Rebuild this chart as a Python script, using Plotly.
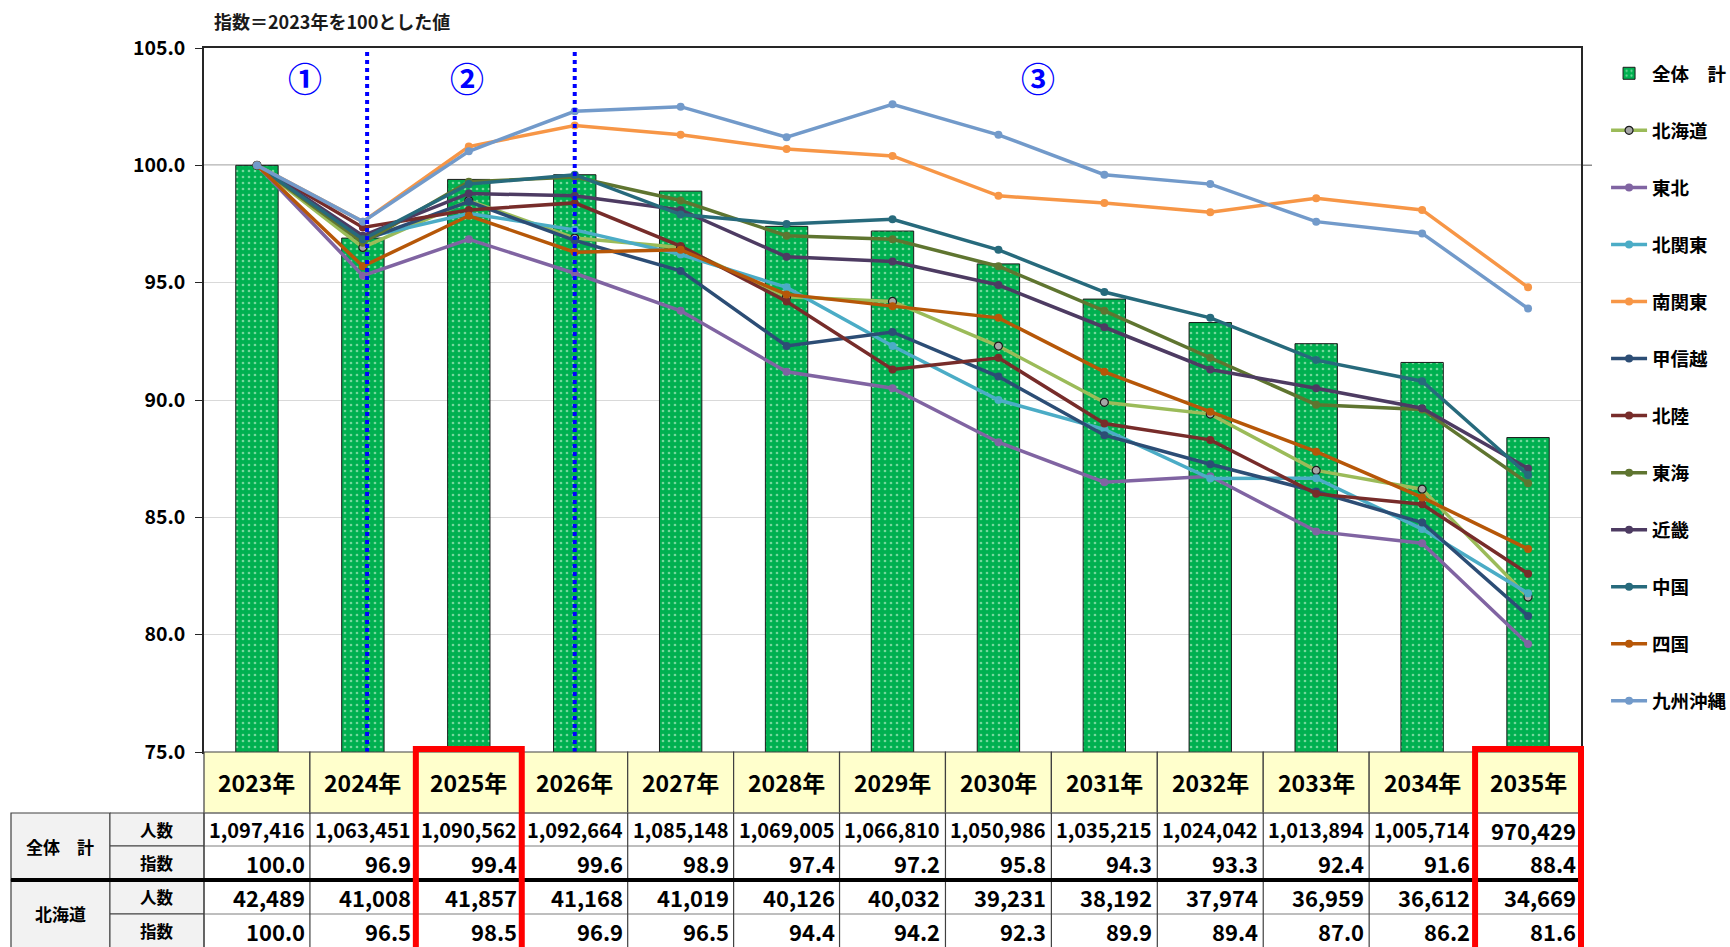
import plotly.graph_objects as go

# ---------------- data ----------------
years = ["2023年", "2024年", "2025年", "2026年", "2027年", "2028年", "2029年",
         "2030年", "2031年", "2032年", "2033年", "2034年", "2035年"]

total_people = [1097416, 1063451, 1090562, 1092664, 1085148, 1069005, 1066810,
                1050986, 1035215, 1024042, 1013894, 1005714, 970429]
total_index = [100.0, 96.9, 99.4, 99.6, 98.9, 97.4, 97.2, 95.8, 94.3, 93.3, 92.4, 91.6, 88.4]

hokkaido_people = [42489, 41008, 41857, 41168, 41019, 40126, 40032,
                   39231, 38192, 37974, 36959, 36612, 34669]
hokkaido_index = [100.0, 96.5, 98.5, 96.9, 96.5, 94.4, 94.2, 92.3, 89.9, 89.4, 87.0, 86.2, 81.6]

tohoku = [100.0, 95.3, 96.85, 95.4, 93.8, 91.2, 90.5, 88.2, 86.5, 86.75, 84.4, 83.9, 79.6]
kitakanto = [100.0, 96.9, 97.95, 97.25, 96.2, 94.8, 92.3, 90.0, 88.75, 86.65, 86.67, 84.5, 81.76]
minamikanto = [100.0, 97.6, 100.8, 101.7, 101.3, 100.7, 100.4, 98.7, 98.4, 98.0, 98.6, 98.1, 94.8]
koshinetsu = [100.0, 96.8, 98.45, 96.8, 95.5, 92.3, 92.9, 91.0, 88.5, 87.26, 86.1, 84.78, 80.8]
hokuriku = [100.0, 97.35, 98.1, 98.4, 96.56, 94.2, 91.3, 91.8, 89.0, 88.3, 86.0, 85.56, 82.6]
tokai = [100.0, 96.7, 99.3, 99.5, 98.5, 97.0, 96.85, 95.7, 93.8, 91.8, 89.8, 89.6, 86.45]
kinki = [100.0, 97.0, 98.8, 98.7, 98.1, 96.1, 95.9, 94.9, 93.1, 91.3, 90.5, 89.65, 87.08]
chugoku = [100.0, 96.85, 99.2, 99.6, 97.9, 97.5, 97.7, 96.4, 94.6, 93.5, 91.7, 90.8, 86.8]
shikoku = [100.0, 95.7, 97.85, 96.3, 96.4, 94.5, 94.0, 93.5, 91.2, 89.5, 87.8, 85.85, 83.65]
kyushu_okinawa = [100.0, 97.6, 100.6, 102.3, 102.5, 101.2, 102.6, 101.3, 99.6, 99.2, 97.6, 97.1, 93.9]

total_name = "全体　計"
region_names = ["北海道", "東北", "北関東", "南関東", "甲信越", "北陸",
                "東海", "近畿", "中国", "四国", "九州沖縄"]
region_values = [hokkaido_index, tohoku, kitakanto, minamikanto, koshinetsu, hokuriku,
                 tokai, kinki, chugoku, shikoku, kyushu_okinawa]

table_groups = ["全体　計", "北海道"]
table_sub = ["人数", "指数"]
table_rows = [total_people, total_index, hokkaido_people, hokkaido_index]

period_labels = ["①", "②", "③"]
period_label_x = [0.45, 1.98, 7.37]
period_boundaries = [1.04, 3.0]
note_text = "指数＝2023年を100とした値"

# ---------------- styles ----------------
FONT = "Noto Sans CJK JP"
line_colors = ["#9BBB59", "#8064A2", "#4BACC6", "#F79646", "#2C4D75", "#772C2A",
               "#5F7530", "#4D3B62", "#276A7C", "#B65708", "#729ACA"]

W, H = 1730, 947
L, R, T, B = 204, 149, 48, 195
PW = W - L - R
PH = H - T - B
N = len(years)


def px(xpix):
    return (xpix - L) / PW


def py(ypix):
    return (H - B - ypix) / PH


def colx(i):
    return i / N


fig = go.Figure()

fig.add_trace(go.Bar(
    x=years, y=total_index, name=total_name, width=0.4,
    marker=dict(color="#00B050", line=dict(color="#1a1a1a", width=1),
                pattern=dict(shape=".", fgcolor="#E8FFE8", size=6, solidity=0.16,
                             fillmode="overlay")),
    legendgroup="g0",
))

for k, (nm, vals) in enumerate(zip(region_names, region_values)):
    if k == 0:
        mk = dict(size=8, color="#A6A6A6", line=dict(color="#1a1a1a", width=1.2))
    else:
        mk = dict(size=8, color=line_colors[k])
    fig.add_trace(go.Scatter(
        x=years, y=vals, name=nm, mode="lines+markers",
        line=dict(color=line_colors[k], width=3.5), marker=mk,
        legendgroup=f"g{k+1}",
    ))

shapes = []
# 100 reference line
shapes.append(dict(type="line", xref="paper", yref="y", x0=0, x1=px(1592), y0=100, y1=100,
                   line=dict(color="#8C8C8C", width=1.5), layer="below"))
# period boundaries
for xb in period_boundaries:
    shapes.append(dict(type="line", xref="x", yref="y", x0=xb, x1=xb, y0=75, y1=105,
                       line=dict(color="#0000FF", width=4, dash="dot"), layer="above"))

# ---------------- table ----------------
row_edges = [752, 813, 846, 880, 914, 948]
row_ext = 962
# header cells
for i in range(N):
    shapes.append(dict(type="rect", xref="paper", yref="paper",
                       x0=colx(i), x1=colx(i + 1), y0=py(row_edges[1]), y1=py(row_edges[0]),
                       fillcolor="#FFFFCC", line=dict(color="#404040", width=1.2)))
# label cells
for g in range(2):
    ybot = row_ext if g == 1 else row_edges[3]
    shapes.append(dict(type="rect", xref="paper", yref="paper",
                       x0=px(11), x1=px(110), y0=py(ybot), y1=py(row_edges[2 * g + 1]),
                       fillcolor="#F2F2F2", line=dict(color="#404040", width=1.2)))
    for s in range(2):
        r = 2 * g + s
        yb = row_ext if r == 3 else row_edges[r + 2]
        shapes.append(dict(type="rect", xref="paper", yref="paper",
                           x0=px(110), x1=0, y0=py(yb), y1=py(row_edges[r + 1]),
                           fillcolor="#F2F2F2", line=dict(color="#404040", width=1)))
# value grid: horizontal lines
for r in range(1, 5):
    shapes.append(dict(type="line", xref="paper", yref="paper", x0=0, x1=1,
                       y0=py(row_edges[r]), y1=py(row_edges[r]),
                       line=dict(color="#7F7F7F", width=1.2)))
# vertical lines
for i in range(N + 1):
    shapes.append(dict(type="line", xref="paper", yref="paper", x0=colx(i), x1=colx(i),
                       y0=py(row_ext), y1=py(row_edges[1]),
                       line=dict(color="#404040", width=1.2)))
# thick group separator
shapes.append(dict(type="line", xref="paper", yref="paper", x0=px(11), x1=1,
                   y0=py(880), y1=py(880), line=dict(color="#000000", width=4)))
# red highlight boxes (2025, 2035)
for ci in [2, 12]:
    shapes.append(dict(type="rect", xref="paper", yref="paper",
                       x0=colx(ci), x1=colx(ci + 1), y0=py(row_ext), y1=py(749),
                       line=dict(color="#FF0000", width=6)))

annotations = []
# note
annotations.append(dict(text=note_text, xref="paper", yref="paper", x=px(212), y=py(21),
                        xanchor="left", yanchor="middle", showarrow=False,
                        font=dict(family=FONT, size=18, color="#1a1a1a", weight="bold")))
# period labels
for lab, xv in zip(period_labels, period_label_x):
    annotations.append(dict(text=lab, xref="x", yref="y", x=xv, y=103.75, showarrow=False,
                            xanchor="center", yanchor="middle",
                            font=dict(family=FONT, size=34, color="#0000FF", weight="bold")))
# header years
for i, yr in enumerate(years):
    annotations.append(dict(text=yr, xref="x", yref="paper", x=i, y=py((row_edges[0] + row_edges[1]) / 2),
                            showarrow=False, xanchor="center", yanchor="middle",
                            font=dict(family=FONT, size=23, color="#000000", weight="bold")))
# group labels
for g, gl in enumerate(table_groups):
    yc = (row_edges[2 * g + 1] + row_edges[2 * g + 3]) / 2
    annotations.append(dict(text=gl, xref="paper", yref="paper", x=px(60), y=py(yc),
                            showarrow=False, xanchor="center", yanchor="middle",
                            font=dict(family=FONT, size=17, color="#000000", weight="bold")))
    for s, sl in enumerate(table_sub):
        r = 2 * g + s
        yc2 = (row_edges[r + 1] + row_edges[r + 2]) / 2
        annotations.append(dict(text=sl, xref="paper", yref="paper", x=px(157), y=py(yc2),
                                showarrow=False, xanchor="center", yanchor="middle",
                                font=dict(family=FONT, size=16.5, color="#000000", weight="bold")))
# values
for r, row in enumerate(table_rows):
    yc = (row_edges[r + 1] + row_edges[r + 2]) / 2
    for i, v in enumerate(row):
        txt = f"{v:,}" if isinstance(v, int) else f"{v:.1f}"
        fs = 20 if len(txt) > 7 else 22
        annotations.append(dict(text=txt, xref="x", yref="paper", x=i + 0.5, y=py(yc),
                                xanchor="right", yanchor="middle", xshift=-3, showarrow=False,
                                font=dict(family=FONT, size=fs, color="#000000", weight="bold")))

fig.update_layout(
    width=W, height=H,
    margin=dict(l=L, r=R, t=T, b=B, autoexpand=False),
    paper_bgcolor="white", plot_bgcolor="white",
    font=dict(family=FONT, color="#000000"),
    shapes=shapes, annotations=annotations,
    barmode="overlay",
    showlegend=True,
    legend=dict(x=1.0182, y=0.9904, xanchor="left", yanchor="top",
                font=dict(family=FONT, size=18.5, color="#000000", weight="bold"),
                tracegroupgap=30, itemwidth=36, bgcolor="rgba(0,0,0,0)"),
    xaxis=dict(type="category", range=[-0.5, N - 0.5], showticklabels=False, ticks="",
               showgrid=False, showline=True, mirror=True, linecolor="#262626", linewidth=1.5,
               zeroline=False),
    yaxis=dict(range=[75, 105], dtick=5, tick0=75, tickformat=".1f", ticks="outside", ticklen=7,
               tickcolor="#262626", ticklabelstandoff=6,
               tickfont=dict(family=FONT, size=19.5, color="#000000", weight="bold"),
               showgrid=True, gridcolor="#D9D9D9", gridwidth=1,
               showline=True, mirror=True, linecolor="#262626", linewidth=1.5, zeroline=False),
)

fig.write_html("out.html", config={"displayModeBar": False},
               post_script="document.body.style.margin='0px';")
